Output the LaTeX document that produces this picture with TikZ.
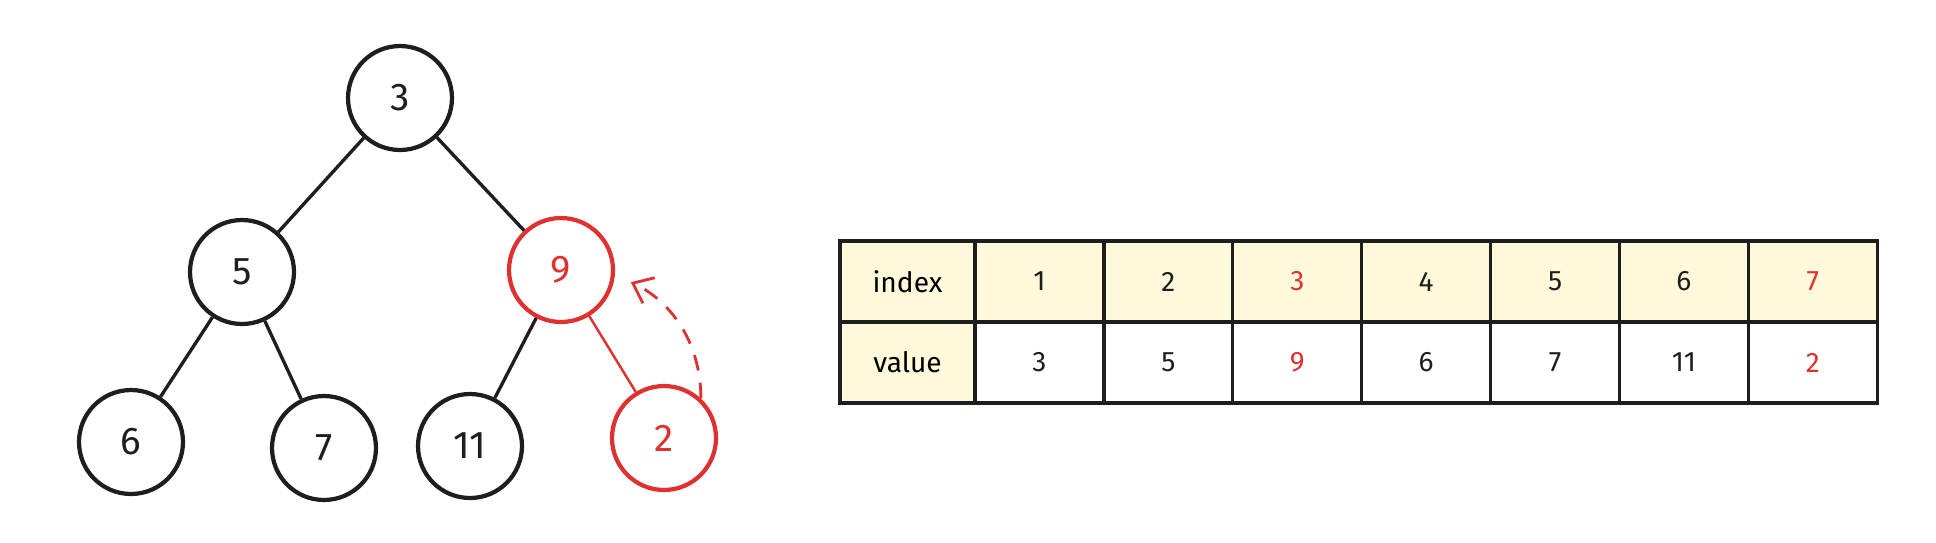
\documentclass[tikz,border=0pt]{standalone}
\usepackage{fontspec}
\setmainfont{Fira Sans}
\usepackage{tikz}
\usetikzlibrary{arrows.meta,positioning}

\definecolor{ink}{HTML}{1E1E1E}
\definecolor{hred}{HTML}{E03131}
\definecolor{paleyellow}{HTML}{FFF9DB}

\begin{document}
\begin{tikzpicture}[x=0.02cm, y=-0.02cm,
    heapnode/.style={circle, draw=ink, line width=2.4pt, minimum size=2.08cm,
        inner sep=0pt, font=\fontsize{22}{26}\selectfont, text=ink},
    heapedge/.style={ink, line width=1.9pt},
    cell/.style={rectangle, draw=ink, line width=1.8pt, minimum height=1.62cm,
        minimum width=2.578cm, inner sep=0pt, font=\fontsize{16}{19}\selectfont}]
    \useasboundingbox (0,0) rectangle (1936,542);

    % Heap as a tree
    \node[heapnode] (n3) at (400,98) {3};
    \node[heapnode] (n5) at (242,272) {5};
    \node[heapnode, draw=hred, text=hred] (n9) at (561,270) {9};
    \node[heapnode] (n6) at (131,442) {6};
    \node[heapnode] (n7) at (324,448) {7};
    \node[heapnode] (n11) at (470,446) {11};
    \node[heapnode, draw=hred, text=hred] (n2) at (664,438) {2};

    % Edges
    \draw[heapedge] (n3) -- (n5);
    \draw[heapedge] (n3) -- (n9);
    \draw[heapedge] (n5) -- (n6);
    \draw[heapedge] (n5) -- (n7);
    \draw[heapedge] (n9) -- (n11);
    \draw[hred, line width=1.4pt] (n9) -- (n2);

    % Sift up of the new element
    \draw[hred, line width=1.6pt, dashed, dash pattern=on 9pt off 7pt,
        -{Straight Barb[length=10pt, width=16pt]}, shorten >=10pt]
        (n2.47) to[out=90, in=-25] (n9.-5);

    % Array representation
    \node[cell, fill=paleyellow, minimum width=2.7cm] (idxhead) at (907.5,281.5) {index};
    \node[cell, fill=paleyellow, minimum width=2.7cm] (valhead) at (907.5,362.5) {value};
    \foreach \i/\v/\c in {1/3/ink, 2/5/ink, 3/9/hred, 4/6/ink, 5/7/ink, 6/11/ink, 7/2/hred} {
        \node[cell, fill=paleyellow, text=\c] (idx\i) at ({975+128.9*(\i-0.5)},281.5) {\i};
        \node[cell, fill=white, text=\c] (val\i) at ({975+128.9*(\i-0.5)},362.5) {\v};
    }
\end{tikzpicture}
\end{document}
